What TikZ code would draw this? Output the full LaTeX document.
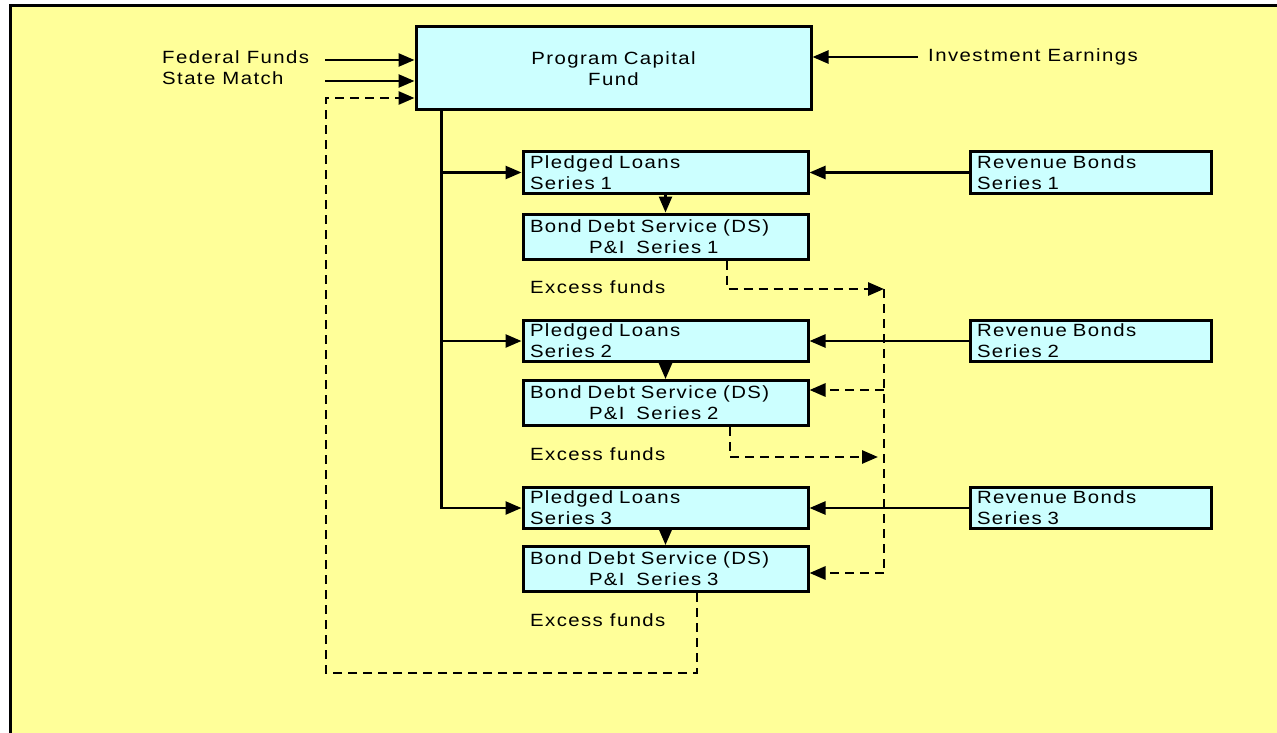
\documentclass[tikz,border=0pt]{standalone}
\usepackage{fontspec}
\setmainfont[FakeStretch=1.15,LetterSpace=8]{Liberation Sans}
\usetikzlibrary{arrows.meta}
\definecolor{bgyellow}{HTML}{FFFF99}
\definecolor{boxcyan}{HTML}{CCFFFF}

\begin{document}
\begin{tikzpicture}[x=1pt,y=-1pt,
  txt/.style={font=\fontsize{17.7}{21}\selectfont},
  box/.style={txt,draw,line width=3pt,fill=boxcyan,inner xsep=7pt,inner ysep=0pt,align=left},
  flow/.style={line width=2.5pt,-{Triangle[length=16pt,width=13pt]}},
  excess/.style={flow,line width=2.8pt,dash pattern=on 9pt off 6pt},
  note/.style={txt,inner sep=0pt,anchor=west}]
\useasboundingbox (0,0) rectangle (1277,733);
\fill[bgyellow] (10,6) rectangle (1277,733);
\draw[line width=3pt] (10,733) -- (10,6) -- (1277,6);
% capital fund and its sources
\node[box,align=center,text width=381pt,minimum height=83pt] (pcf) at (613.5,68.5) {Program Capital\\Fund};
\node[note] (fed) at (162,57) {Federal Funds};
\node[note] (state) at (162,78) {State Match};
\node[note] (earn) at (928,57) {Investment Earnings};
\coordinate (fedin) at (325,60);
\coordinate (statein) at (325,81);
\draw[flow] (fedin) -- (fedin -| pcf.west);
\draw[flow] (statein) -- (statein -| pcf.west);
\draw[flow] ([xshift=-10pt]earn.west) -- (earn.west -| pcf.east);
% one row of boxes per series
\foreach \s/\yp/\yb/\ye in {1/172.5/236.5/287, 2/341/403/454, 3/508/569/620}{
  \node[box,text width=271pt,minimum height=41pt] (pl\s) at (665.5,\yp) {Pledged Loans\\Series \s};
  \node[box,text width=271pt,minimum height=45pt] (bds\s) at (665.5,\yb) {Bond Debt Service (DS)\\\hspace*{59pt}P\&I\ \ Series \s};
  \node[box,text width=227pt,minimum height=41pt] (rb\s) at (1090.5,\yp) {Revenue Bonds\\Series \s};
  \node[note] (xs\s) at (530,\ye) {Excess funds};
  \draw[flow] (pl\s.south) -- (bds\s.north);
  \draw[flow] (rb\s.west) -- (pl\s.east);
}
% trunk from the fund
\coordinate (trunk) at ([xshift=27pt]pcf.south west);
\draw[flow] (trunk) |- (pl3.west);
\draw[flow] (trunk |- pl1.west) -- (pl1.west);
\draw[flow] (trunk |- pl2.west) -- (pl2.west);
% excess funds
\coordinate (bus) at (884,289);
\coordinate (busend) at (884,573);
\coordinate (in2) at ([yshift=13pt]bds2.east);
\coordinate (x2end) at (878,457);
\coordinate (back) at (326,673);
\coordinate (backin) at (326,98);
\draw[excess] ([xshift=61.5pt]bds1.south) |- (bus);
\draw[excess,-] (bus) -- (busend);
\draw[excess] (in2 -| bus) -- (in2);
\draw[excess] (busend) -- (busend -| bds3.east);
\draw[excess] ([xshift=64.5pt]bds2.south) |- (x2end);
\draw[excess] ([xshift=31.5pt]bds3.south) |- (back) -- (backin) -- (backin -| pcf.west);
\end{tikzpicture}
\end{document}
